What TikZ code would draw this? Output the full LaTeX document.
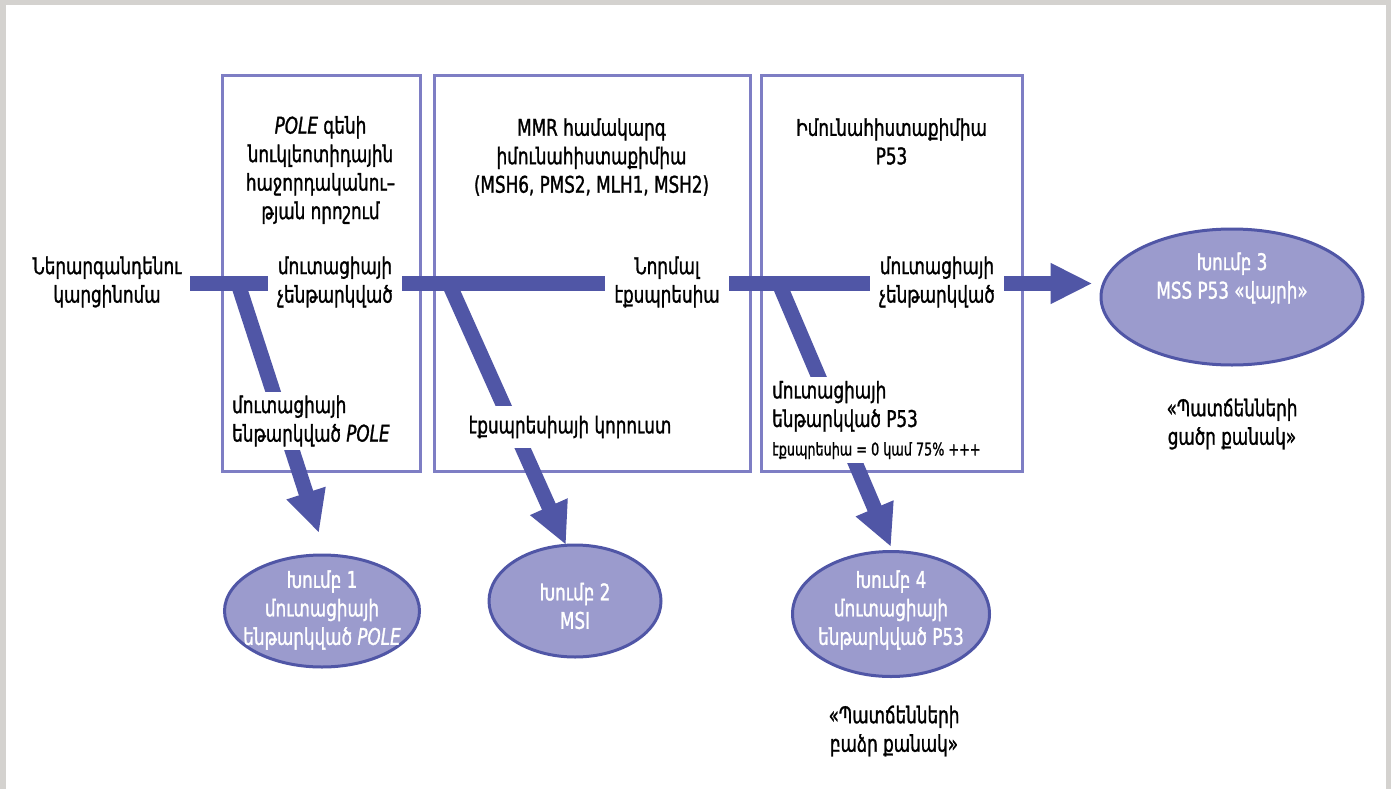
\documentclass[tikz,border=0pt]{standalone}
\usepackage{fontspec}
\setmainfont{DejaVu Sans}[FakeStretch=0.73,FakeBold=1.2]
\usetikzlibrary{arrows.meta,shapes.geometric}
\definecolor{barblue}{RGB}{80,86,166}
\definecolor{boxline}{RGB}{126,126,196}
\definecolor{groupfill}{RGB}{155,155,205}
\definecolor{edgegray}{RGB}{212,210,207}
\newcommand{\mainsz}{\fontsize{23}{28.5}\selectfont}
\newcommand{\smallsz}{\fontsize{17.5}{25}\selectfont}
\begin{document}
\begin{tikzpicture}[x=1pt,y=-1pt,
  panel/.style={draw=boxline,line width=3pt},
  bar/.style={draw=barblue,line width=15pt},
  tipped/.style={-{Triangle[length=42pt,width=38pt]}},
  lbl/.style={fill=white,inner xsep=9pt,inner ysep=4pt,align=center,font=\mainsz},
  note/.style={align=center,font=\mainsz,inner sep=0pt},
  group/.style={ellipse,draw=barblue,line width=3pt,fill=groupfill,inner sep=0pt},
  gtext/.style={align=center,inner sep=0pt,text=white,font=\mainsz},
]
\useasboundingbox (0,0) rectangle (1391,789);
% page edge
\fill[edgegray] (0,0) rectangle (1391,789);
\fill[white] (6,5) rectangle (1386,789);

% three test panels
\draw[panel] (222,75.5) rectangle (420,471);
\draw[panel] (434,75.5) rectangle (750,471);
\draw[panel] (761,75.5) rectangle (1022,471);

\node[note] (t1) at (320.5,170) {\textit{POLE} գենի\\նուկլեոտիդային\\հաջորդականու–\\թյան որոշում};
\node[note] (t2) at (591.5,157) {MMR համակարգ\\իմունահիստաքիմիա\\(MSH6, PMS2, MLH1, MSH2)};
\node[note] (t3) at (891.5,141.5) {Իմունահիստաքիմիա\\P53};

% outcome groups
\node[group,minimum width=195pt,minimum height=112pt] (g1) at (322,611) {};
\node[gtext] (g1t) at (322,610) {Խումբ 1\\մուտացիայի\\ենթարկված \textit{POLE}};
\node[group,minimum width=172pt,minimum height=112pt] (g2) at (575,601) {};
\node[gtext] (g2t) at (575,606) {Խումբ 2\\MSI};
\node[group,minimum width=262pt,minimum height=136pt] (g3) at (1232,297) {};
\node[gtext] (g3t) at (1232,278) {Խումբ 3\\MSS P53 «վայրի»};
\node[group,minimum width=197pt,minimum height=125pt] (g4) at (891,614) {};
\node[gtext] (g4t) at (891,610) {Խումբ 4\\մուտացիայի\\ենթարկված P53};

\node[note] (n3) at (1232,424) {«Պատճենների\\ցածր քանակ»};
\node[note] (n4) at (894,731) {«Պատճենների\\բաձր քանակ»};

% main line
\node[note] (ec) at (107,282) {Ներարգանդենու\\կարցինոմա};
\coordinate (src) at (190,283.5);
\draw[bar,tipped,shorten >=7pt] (src) -- (src -| g3.west);

% branches
\coordinate (d1a) at (238,283.5);
\coordinate (d1b) at (319,533);
\coordinate (d2a) at (449,283.5);
\coordinate (d2b) at (566,545);
\coordinate (d3a) at (779,283.5);
\coordinate (d3b) at (891,547);
\draw[bar,tipped] (d1a) -- (d1b);
\draw[bar,tipped] (d2a) -- (d2b);
\draw[bar,tipped] (d3a) -- (d3b);

% labels set over the lines
\node[lbl] (k1) at (335,282) {մուտացիայի\\չենթարկված};
\node[lbl] (k2) at (667,282) {Նորմալ\\էքսպրեսիա};
\node[lbl] (k3) at (937,282) {մուտացիայի\\չենթարկված};
\node[lbl,align=left,anchor=west,inner xsep=3pt] (m1) at (229,421)
  {մուտացիայի\\ենթարկված \textit{POLE}};
\node[lbl,inner ysep=10pt] (m2) at (570,427) {էքսպրեսիայի կորուստ};
\node[lbl,align=left,anchor=west,inner xsep=3pt] (m3) at (769,420)
  {մուտացիայի\\ենթարկված P53\\{\smallsz էքսպրեսիա = 0 կամ 75\% +++}};
\end{tikzpicture}
\end{document}
